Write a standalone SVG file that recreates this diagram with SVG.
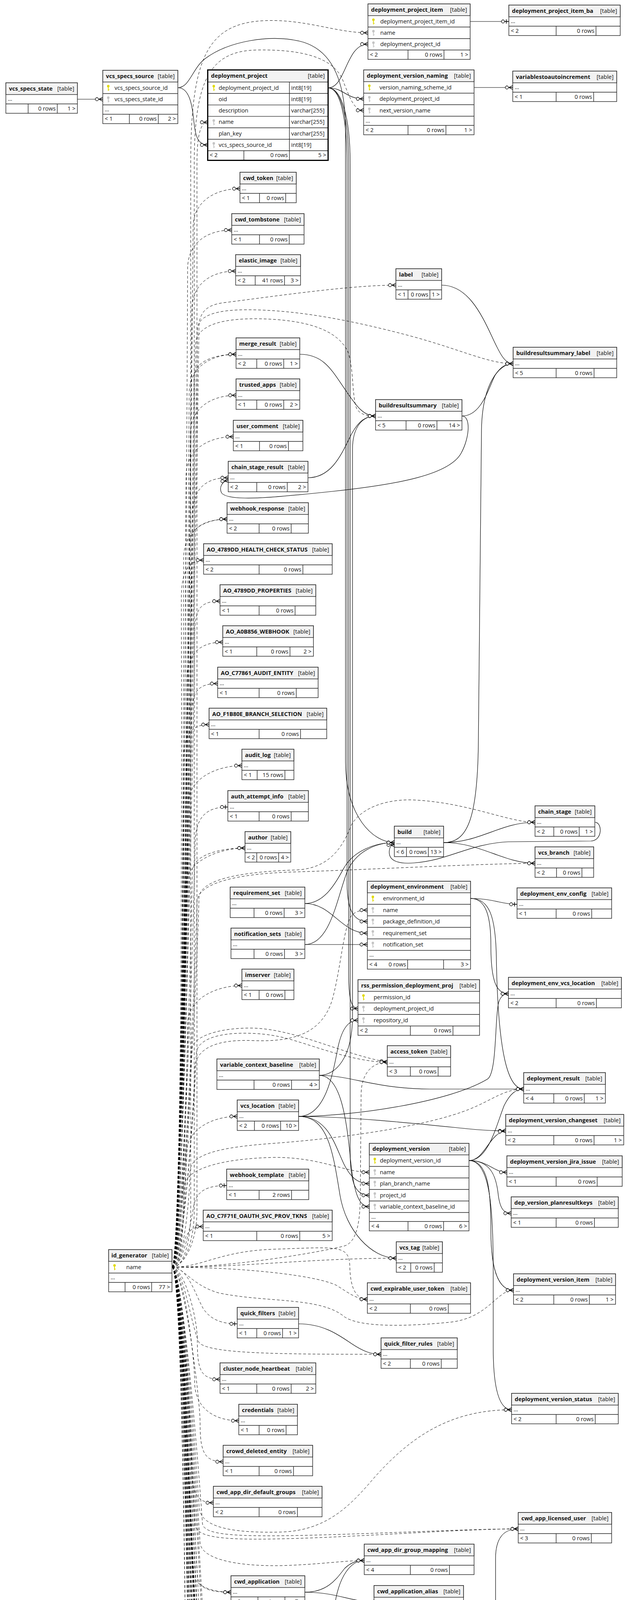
<svg xmlns="http://www.w3.org/2000/svg" width="1612" height="4853" viewBox="0 0 1612 4853">
<defs>
<style>
text{font-family:"Open Sans","Noto Sans","DejaVu Sans",sans-serif;font-size:14.5px;fill:#111}
.b{font-weight:bold}
.e{text-anchor:end}
.bx{fill:#fff;stroke:#222;stroke-width:1.4}
.hd{fill:#f2f2f2;stroke:#222;stroke-width:1.4}
.ln{fill:none;stroke:#222;stroke-width:1.4}
.bold{fill:none;stroke:#000;stroke-width:3}
.fk{fill:none;stroke:#000;stroke-width:1.2}
.im{fill:none;stroke:#000;stroke-width:1;stroke-dasharray:7 5}
.m{marker-end:url(#crow)}
.o{marker-end:url(#tee)}
.pk{fill:#e0d900}
.fg{fill:#c4c4c4}
</style>
<g id="key"><circle cx="4" cy="3.5" r="3.2"/><rect x="3" y="5.5" width="2" height="10"/><rect x="5" y="12" width="2.2" height="1.6"/></g>
<marker id="crow" markerUnits="userSpaceOnUse" markerWidth="24" markerHeight="14" viewBox="0 0 24 14" refX="22" refY="7" orient="auto"><path d="M12,7H22M12,7L22,1.8M12,7L22,12.2" fill="none" stroke="#000" stroke-width="1.4"/><circle cx="7" cy="7" r="4" fill="#fff" stroke="#000" stroke-width="1.3"/></marker>
<marker id="tee" markerUnits="userSpaceOnUse" markerWidth="24" markerHeight="14" viewBox="0 0 24 14" refX="22" refY="7" orient="auto"><path d="M11,7H22M15.5,1.5V12.5" fill="none" stroke="#000" stroke-width="1.6"/><circle cx="7" cy="7" r="4" fill="#fff" stroke="#000" stroke-width="1.3"/></marker>
</defs>
<rect x="0" y="0" width="1612" height="4853" fill="#fff"/>

<g id="connectors">
<path class="fk m" d="M198,254 L263,254"/>
<path class="fk m" d="M455,224.5 C485,224.5 492,270 496,310 C500,352 508,371 531.5,371"/>
<path class="fk m" d="M455,224.5 C485,224.5 492,175 525,150 C585,105 690,88 765,105 C840,122 884,190 884,330 L884,1950 C884,2090 955,2157 1009,2157"/>
<path class="fk m" d="M839.5,225 C885,225 885,113 941.5,113"/>
<path class="fk m" d="M839.5,225 C880,225 885,253 930.5,253"/>
<path class="fk m" d="M839.5,225 C870,225 888,300 888,420 L888,2260 C888,2330 905,2359 940,2359"/>
<path class="fk m" d="M839.5,225 C872,225 892,300 892,420 L892,2490 C892,2555 898,2582 916,2582"/>
<path class="fk m" d="M839.5,225 C874,225 896,300 896,420 L896,2950 C896,3035 912,3060 945,3060"/>
<path class="fk m" d="M817,2753 C858,2753 902,2710 902,2600 L902,1150 C902,1090 930,1065 961,1065"/>
<path class="fk m" d="M767,907 C830,907 850,950 885,1000 C912,1040 930,1065 961,1065"/>
<path class="fk m" d="M788,1223 C850,1223 875,1160 900,1110 C918,1078 935,1065 961,1065"/>
<path class="fk m" d="M1182,1065 C1205,1065 1202,1120 1180,1160 C1150,1215 1020,1240 850,1258 C700,1274 585,1285 567,1262 C560,1248 568,1232 584,1230"/>
<path class="fk m" d="M1130,730 C1195,730 1230,800 1258,860 C1280,908 1292,931 1313,931"/>
<path class="fk m" d="M1182,1065 C1230,1065 1248,1000 1266,962 C1280,940 1293,931 1313,931"/>
<path class="fk m" d="M1135,2157 C1195,2157 1222,2100 1224,1900 L1232,1100 C1234,985 1275,931 1313,931"/>
<path class="fk m" d="M1135,2157 C1230,2157 1280,2105 1369,2105"/>
<path class="fk m" d="M1135,2157 C1230,2157 1290,2210 1369,2210"/>
<path class="fk m" d="M1522,2105 C1542,2105 1542,2152 1512,2153 L1300,2155 C1200,2160 1150,2202 1060,2209 C1012,2213 995,2200 996,2180 C997,2168 1000,2163 1009,2163"/>
<path class="fk m" d="M780,2313 C830,2313 858,2262 880,2222 C905,2178 960,2157 1009,2157"/>
<path class="fk m" d="M780,2313 C850,2313 872,2389 940,2389"/>
<path class="fk m" d="M780,2418 L940,2418"/>
<path class="fk m" d="M780,2418 C845,2418 862,2300 888,2232 C910,2180 962,2157 1009,2157"/>
<path class="fk o" d="M1204,2300 C1262,2300 1282,2315 1323,2315"/>
<path class="fk m" d="M1204,2300 C1245,2300 1256,2350 1256,2420 C1256,2512 1270,2544 1301,2544"/>
<path class="fk m" d="M1204,2300 C1252,2300 1268,2345 1270,2450 C1274,2700 1300,2788 1340,2788"/>
<path class="fk m" d="M817,2753 C900,2753 950,2786 1100,2788 L1340,2788"/>
<path class="fk m" d="M817,2753 C868,2753 885,2850 895,2950 C905,3062 920,3089 945,3089"/>
<path class="fk m" d="M764,2858 C830,2858 850,2760 865,2680 C876,2630 893,2612 916,2612"/>
<path class="fk m" d="M764,2858 C900,2858 1150,2822 1248,2762 C1272,2745 1266,2600 1276,2566 C1281,2550 1290,2544 1301,2544"/>
<path class="fk m" d="M764,2858 C900,2858 1100,2880 1200,2890 C1240,2894 1262,2895 1294,2895"/>
<path class="fk m" d="M764,2858 C840,2858 856,2930 880,2980 C900,3020 920,3030 945,3030"/>
<path class="fk m" d="M764,2858 C840,2858 852,2950 870,3060 C885,3150 950,3221 1014,3221"/>
<path class="fk m" d="M1200,2971 C1240,2971 1252,2900 1294,2895"/>
<path class="fk m" d="M1200,2971 C1250,2971 1270,2880 1290,2830 C1305,2800 1320,2788 1340,2788"/>
<path class="fk m" d="M1200,2971 C1250,2971 1262,3001 1297,3001"/>
<path class="fk m" d="M1200,2971 C1255,2971 1270,3010 1275,3060 C1280,3096 1290,3106 1308,3106"/>
<path class="fk m" d="M1200,2971 C1250,2971 1256,3050 1256,3150 C1256,3262 1280,3303 1314,3303"/>
<path class="fk m" d="M1200,2971 C1255,2971 1262,3100 1262,3250 L1262,3450 C1262,3562 1280,3609 1309,3609"/>
<path class="fk m" d="M764,3389 C830,3389 870,3420 900,3440 C930,3460 950,3467 975,3467"/>
<path class="fk m" d="M780,4076 C860,4076 900,4101 957,4101"/>
<path class="fk m" d="M780,4076 C840,4076 862,4040 882,4015 C900,3998 915,3995 932,3995"/>
<path class="fk m" d="M772,4390 C820,4390 840,4250 855,4120 C866,4030 900,3995 932,3995"/>
<path class="fk m" d="M772,4390 C830,4390 850,4290 870,4250 C888,4215 910,4205 939,4205"/>
<path class="fk m" d="M772,4390 C870,4390 920,4347 1000,4347"/>
<path class="fk m" d="M772,4390 C860,4400 950,4420 1100,4418 C1230,4416 1270,4347 1334,4347"/>
<path class="fk m" d="M772,4390 C860,4390 900,4480 940,4510 C960,4522 980,4525 1006,4525"/>
<path class="fk m" d="M772,4390 C900,4400 1050,4430 1150,4448 C1250,4466 1270,4525 1339,4525"/>
<path class="fk m" d="M772,4390 C840,4390 868,4500 880,4580 C890,4640 930,4666 973,4666"/>
<path class="fk m" d="M1144,4347 L1334,4347"/>
<path class="fk m" d="M1139,4525 L1339,4525"/>
<path class="fk m" d="M1206,4205 C1250,4205 1268,4180 1268,4100 L1268,3990 C1268,3935 1290,3914 1326,3914"/>
<path class="fk o" d="M1203,55 L1302,55"/>
<path class="fk m" d="M1213,224 L1312,224"/>

<path class="im m" d="M440,3244 C470,3244 488,3180 488,3100 L488,420 C488,150 530,60 675,53 C780,48 860,84 941.5,84"/>
<path class="im m" d="M440,3244 C470,3244 497,3180 497,3100 L497,420 C497,200 540,130 658,128 C780,126 850,150 875,200 C895,250 905,282.5 930.5,282.5"/>
<path class="im m" d="M440,3244 C470,3244 504,3180 504,3100 L504,420 C504,350 512,313 531.5,313"/>
<path class="im m" d="M440,3244 C470,3244 494,643 494,583 C494,513 554,483 614,483"/>
<path class="im m" d="M440,3244 C470,3244 480,749 480,689 C480,619 533,589 593,589"/>
<path class="im m" d="M440,3244 C470,3244 491,854 491,794 C491,724 543,694 603,694"/>
<path class="im m" d="M440,3244 C470,3244 509,900 509,840 C509,790 540,778 580,774 C720,756 900,730 1013,730"/>
<path class="im m" d="M440,3244 C470,3244 505,900 505,845 C505,805 560,793 632,793 C760,793 900,820 1050,860 C1180,895 1250,931 1313,931"/>
<path class="im m" d="M440,3244 C470,3244 500,940 500,885 C500,835 560,815 660,816 C780,818 862,842 890,900 C906,940 900,1030 915,1050 C926,1062 940,1065 961,1065"/>
<path class="im m" d="M440,3244 C470,3244 484,1067 484,1007 C484,937 544,907 604,907"/>
<path class="im m" d="M440,3244 C470,3244 496,1027 496,967 C496,925 550,907 604,907"/>
<path class="im m" d="M440,3244 C470,3244 487,1172 487,1112 C487,1042 544,1012 604,1012"/>
<path class="im m" d="M440,3244 C470,3244 476,1278 476,1218 C476,1148 537,1118 597,1118"/>
<path class="im m" d="M440,3244 C470,3244 492,1383 492,1323 C492,1253 524,1223 584,1223"/>
<path class="im m" d="M440,3244 C470,3244 470,1489 470,1429 C470,1359 521,1329 581,1329"/>
<path class="im m" d="M440,3244 C470,3244 486,1449 486,1389 C486,1349 530,1329 581,1329"/>
<path class="im m" d="M440,3244 C470,3244 464,1594 464,1534 C464,1464 480,1434 521,1434"/>
<path class="im m" d="M440,3244 C470,3244 498,1699 498,1639 C498,1569 503,1539 563,1539"/>
<path class="im m" d="M440,3244 C470,3244 478,1804 478,1744 C478,1674 510,1644 570,1644"/>
<path class="im m" d="M440,3244 C470,3244 490,1910 490,1850 C490,1780 497,1750 557,1750"/>
<path class="im m" d="M440,3244 C470,3244 469,2015 469,1955 C469,1885 485,1855 535,1855"/>
<path class="im m" d="M440,3244 C470,3244 481,2120 481,2060 C481,1990 559,1960 619,1960"/>
<path class="im o" d="M440,3244 C470,3244 499,2226 499,2166 C499,2096 523,2066 583,2066"/>
<path class="im m" d="M440,3244 C470,3244 474,2331 474,2271 C474,2201 567,2171 627,2171"/>
<path class="im m" d="M440,3244 C470,3244 492,2281 492,2231 C492,2190 560,2171 627,2171"/>
<path class="im m" d="M440,3244 C470,3244 509,2360 509,2300 C509,2255 600,2232 760,2227 C850,2222 880,2160 900,2110 C930,2062 1000,2045 1060,2048 C1200,2055 1300,2105 1369,2105"/>
<path class="im m" d="M440,3244 C470,3244 504,2370 504,2310 C504,2262 600,2236 760,2232 C950,2226 1200,2212 1369,2210"/>
<path class="im m" d="M440,3244 C470,3244 498,2800 498,2740 C498,2680 560,2660 650,2664 C760,2668 825,2640 850,2560 C872,2480 878,2380 898,2346 C908,2333 922,2330 940,2330"/>
<path class="im m" d="M440,3244 C470,3244 480,2683 480,2623 C480,2553 559,2523 619,2523"/>
<path class="im m" d="M440,3244 C470,3244 502,2760 502,2700 C502,2660 560,2645 624,2645 C700,2645 740,2660 780,2672 C860,2698 930,2719 991,2719"/>
<path class="im m" d="M440,3244 C470,3244 490,2740 490,2690 C490,2650 570,2630 650,2632 C760,2636 880,2700 991,2719"/>
<path class="im m" d="M440,3244 C600,3244 820,3205 880,3190 C916,3180 922,3120 922,3050 L924,2800 C925,2745 955,2719 991,2719"/>
<path class="im m" d="M440,3244 C470,3244 476,3018 476,2958 C476,2888 547,2858 607,2858"/>
<path class="im m" d="M440,3244 C470,3244 486,3060 486,3000 C486,2955 560,2937 700,2927 C900,2912 1100,2880 1200,2840 C1262,2815 1290,2788 1340,2788"/>
<path class="im m" d="M440,3244 C470,3244 470,3090 470,3040 C470,2995 560,2966 700,2963 C820,2962 880,3001 945,3001"/>
<path class="im o" d="M440,3244 C470,3244 490,3120 496,3085 C504,3048 530,3035 580,3035"/>
<path class="im m" d="M440,3244 C462,3244 468,3185 476,3165 C486,3146 500,3140 520,3140"/>
<path class="im m" d="M440,3244 C620,3244 800,3221 1014,3221"/>
<path class="im m" d="M440,3244 C600,3244 800,3262 860,3290 C890,3308 910,3326 940,3326"/>
<path class="im m" d="M440,3244 C520,3244 560,3203 700,3198 C860,3193 893,3185 895,3240 C896,3300 912,3326 940,3326"/>
<path class="im m" d="M440,3244 C470,3244 490,3290 560,3310 C680,3335 820,3320 880,3370 C920,3400 1050,3395 1150,3385 C1250,3375 1270,3303 1314,3303"/>
<path class="im o" d="M440,3244 C480,3244 498,3310 520,3350 C540,3380 570,3389 607,3389"/>
<path class="im m" d="M440,3244 C470,3244 490,3400 510,3438 C540,3465 700,3467 975,3467"/>
<path class="im m" d="M440,3244 C470,3244 505,3371 505,3431 C505,3501 510,3531 563,3531"/>
<path class="im m" d="M440,3244 C470,3244 505,3800 510,3860 C514,3912 600,3925 720,3922 C840,3918 900,3850 960,3780 C1050,3680 1150,3609 1309,3609"/>
<path class="im m" d="M440,3244 C470,3244 498,3477 498,3537 C498,3607 551,3637 611,3637"/>
<path class="im m" d="M440,3244 C470,3244 512,3582 512,3642 C512,3712 520,3742 571,3742"/>
<path class="im m" d="M440,3244 C470,3244 490,3687 490,3747 C490,3817 500,3847 546,3847"/>
<path class="im m" d="M440,3244 C470,3244 515,3850 518,3900 C521,3930 600,3935 800,3930 C1000,3925 1200,3914 1326,3914"/>
<path class="im m" d="M440,3244 C470,3244 496,3860 500,3905 C504,3942 600,3944 800,3937 C1000,3929 1200,3914 1326,3914"/>
<path class="im m" d="M440,3244 C470,3244 508,3900 512,3950 C516,3990 600,4010 720,4008 C820,4005 880,3995 932,3995"/>
<path class="im m" d="M440,3244 C470,3244 486,3980 494,4030 C502,4065 550,4076 591,4076"/>
<path class="im m" d="M440,3244 C470,3244 500,3990 506,4040 C512,4072 550,4076 591,4076"/>
<path class="im m" d="M440,3244 C470,3244 492,4050 498,4100 C504,4140 560,4160 640,4158 C760,4155 880,4101 957,4101"/>
<path class="im m" d="M440,3244 C470,3244 515,4060 518,4110 C522,4160 560,4176 650,4172 C770,4166 880,4101 957,4101"/>
<path class="im m" d="M440,3244 C470,3244 480,4070 486,4120 C494,4175 560,4192 660,4186 C780,4178 880,4101 957,4101"/>
<path class="im m" d="M440,3244 C470,3244 503,4150 510,4200 C516,4240 580,4248 660,4245 C780,4240 860,4205 939,4205"/>
<path class="im m" d="M440,3244 C470,3244 495,4230 505,4262 C525,4295 800,4347 1000,4347"/>
<path class="im m" d="M440,3244 C470,3244 512,4220 518,4255 C535,4290 800,4342 1000,4347"/>
<path class="im m" d="M440,3244 C470,3244 478,4236 488,4270 C508,4302 800,4350 1000,4347"/>
<path class="im m" d="M440,3244 C470,3244 520,4200 522,4240 C526,4265 600,4270 700,4270 C1000,4272 1200,4280 1250,4310 C1285,4335 1300,4347 1334,4347"/>
<path class="im m" d="M440,3244 C470,3244 490,4320 500,4350 C514,4385 560,4390 598,4390"/>
<path class="im m" d="M440,3244 C470,3244 506,4330 512,4362 C522,4388 560,4390 598,4390"/>
<path class="im m" d="M440,3244 C470,3244 490,4320 490,4380 C490,4440 780,4525 1006,4525"/>
<path class="im m" d="M440,3244 C470,3244 505,4335 505,4395 C505,4455 780,4525 1006,4525"/>
<path class="im m" d="M440,3244 C470,3244 476,4350 476,4410 C476,4470 780,4525 1006,4525"/>
<path class="im m" d="M440,3244 C470,3244 515,4365 515,4425 C515,4485 780,4525 1006,4525"/>
<path class="im m" d="M440,3244 C470,3244 484,4380 484,4440 C484,4500 780,4525 1006,4525"/>
<path class="im m" d="M440,3244 C470,3244 498,4395 498,4455 C498,4515 780,4525 1006,4525"/>
<path class="im m" d="M440,3244 C470,3244 510,4415 510,4475 C510,4535 780,4525 1006,4525"/>
<path class="im m" d="M440,3244 C470,3244 500,4500 508,4540 C516,4580 600,4590 700,4588 C950,4585 1150,4585 1250,4560 C1290,4545 1310,4525 1339,4525"/>
<path class="im m" d="M440,3244 C470,3244 488,4480 488,4540 C488,4600 760,4666 973,4666"/>
<path class="im m" d="M440,3244 C470,3244 506,4500 506,4560 C506,4620 760,4666 973,4666"/>
<path class="im m" d="M440,3244 C470,3244 478,4520 478,4580 C478,4640 760,4666 973,4666"/>
<path class="im m" d="M440,3244 C470,3244 516,4540 516,4600 C516,4660 760,4666 973,4666"/>
<path class="im m" d="M440,3244 C470,3244 495,4680 502,4720 C510,4750 540,4763 581,4763"/>
</g>

<g id="t_vcs_specs_state"><rect class="bx" x="15" y="212" width="183" height="78"/><rect class="hd" x="15" y="212" width="183" height="30"/><path class="ln" d="M15,266H198M72,266V290M146.5,266V290"/><text class="b" x="23" y="231.5">vcs_specs_state</text><text class="e" x="190" y="231.5">[table]</text><text x="20" y="258">...</text><text class="e" x="142.5" y="282.5">0 rows</text><text class="e" x="193" y="282.5">1 &gt;</text></g>

<g id="t_vcs_specs_source"><rect class="bx" x="263" y="180" width="192" height="136.5"/><rect class="hd" x="263" y="180" width="192" height="30"/><path class="ln" d="M263,239.5H455M263,268.5H455M263,292.5H455M331,292.5V316.5M405,292.5V316.5"/><text class="b" x="271" y="199.5">vcs_specs_source</text><text class="e" x="447" y="199.5">[table]</text><use href="#key" class="pk" x="273" y="217"/><text x="293" y="229.5">vcs_specs_source_id</text><use href="#key" class="fg" x="273" y="246.5"/><text x="293" y="259">vcs_specs_state_id</text><text x="268" y="284.5">...</text><text x="268" y="309">&lt; 1</text><text class="e" x="401" y="309">0 rows</text><text class="e" x="450" y="309">2 &gt;</text></g>

<g id="t_deployment_project"><rect class="bx" x="531.5" y="179" width="308" height="231.5"/><rect class="hd" x="531.5" y="179" width="308" height="31"/><path class="ln" d="M531.5,239.3H839.5M531.5,268.6H839.5M531.5,297.9H839.5M531.5,327.2H839.5M531.5,356.5H839.5M531.5,385.8H839.5M740.5,210V385.8M624,385.8V410.5M740.5,385.8V410.5"/><rect class="bold" x="531.5" y="179" width="308" height="231.5"/><text class="b" x="540" y="199">deployment_project</text><text class="e" x="831" y="199">[table]</text><use href="#key" class="pk" x="543" y="217"/><text x="559.5" y="229.5">deployment_project_id</text><text x="745" y="229.5">int8[19]</text><text x="559.5" y="258.8">oid</text><text x="745" y="258.8">int8[19]</text><text x="559.5" y="288.1">description</text><text x="745" y="288.1">varchar[255]</text><use href="#key" class="fg" x="543" y="305"/><text x="559.5" y="317.4">name</text><text x="745" y="317.4">varchar[255]</text><text x="559.5" y="346.7">plan_key</text><text x="745" y="346.7">varchar[255]</text><use href="#key" class="fg" x="543" y="363.5"/><text x="559.5" y="376">vcs_specs_source_id</text><text x="745" y="376">int8[19]</text><text x="536.5" y="402.3">&lt; 2</text><text class="e" x="736.5" y="402.3">0 rows</text><text class="e" x="834.5" y="402.3">5 &gt;</text></g>

<g id="t_deployment_project_item"><rect class="bx" x="941.5" y="10" width="261.5" height="142"/><rect class="hd" x="941.5" y="10" width="261.5" height="30"/><path class="ln" d="M941.5,69.3H1203M941.5,98.7H1203M941.5,128H1203M1044,128V152M1136,128V152"/><text class="b" x="949.5" y="29.5">deployment_project_item</text><text class="e" x="1195" y="29.5">[table]</text><use href="#key" class="pk" x="951.5" y="47"/><text x="973" y="59.5">deployment_project_item_id</text><use href="#key" class="fg" x="951.5" y="76.3"/><text x="973" y="89">name</text><use href="#key" class="fg" x="951.5" y="105.7"/><text x="973" y="118.3">deployment_project_id</text><text x="946.5" y="144.5">&lt; 2</text><text class="e" x="1132" y="144.5">0 rows</text><text class="e" x="1198" y="144.5">1 &gt;</text></g>

<g id="t_deployment_project_item_ba"><rect class="bx" x="1302" y="13" width="285" height="78"/><rect class="hd" x="1302" y="13" width="285" height="30"/><path class="ln" d="M1302,67H1587M1423,67V91M1525,67V91"/><text class="b" x="1310" y="32.5">deployment_project_item_ba</text><text class="e" x="1579" y="32.5">[table]</text><text x="1307" y="59">...</text><text x="1307" y="83.5">&lt; 2</text><text class="e" x="1521" y="83.5">0 rows</text></g>

<g id="t_deployment_version_naming"><rect class="bx" x="930.5" y="179" width="282.5" height="166"/><rect class="hd" x="930.5" y="179" width="282.5" height="30"/><path class="ln" d="M930.5,238.5H1213M930.5,268H1213M930.5,297.5H1213M930.5,321H1213M1044,321V345M1141,321V345"/><text class="b" x="938.5" y="198.5">deployment_version_naming</text><text class="e" x="1205" y="198.5">[table]</text><use href="#key" class="pk" x="941" y="216"/><text x="971" y="228.5">version_naming_scheme_id</text><use href="#key" class="fg" x="941" y="245.5"/><text x="971" y="258">deployment_project_id</text><use href="#key" class="fg" x="941" y="275"/><text x="971" y="287.5">next_version_name</text><text x="935.5" y="313.5">...</text><text x="935.5" y="337.5">&lt; 2</text><text class="e" x="1137" y="337.5">0 rows</text><text class="e" x="1208" y="337.5">1 &gt;</text></g>

<g id="t_variablestoautoincrement"><rect class="bx" x="1312" y="182" width="266" height="78"/><rect class="hd" x="1312" y="182" width="266" height="30"/><path class="ln" d="M1312,236H1578M1423,236V260M1519,236V260"/><text class="b" x="1320" y="201.5">variablestoautoincrement</text><text class="e" x="1570" y="201.5">[table]</text><text x="1317" y="228">...</text><text x="1317" y="252.5">&lt; 1</text><text class="e" x="1515" y="252.5">0 rows</text></g>

<g id="t_cwd_token"><rect class="bx" x="614" y="441" width="144" height="78"/><rect class="hd" x="614" y="441" width="144" height="30"/><path class="ln" d="M614,495H758M664,495V519M731,495V519"/><text class="b" x="622" y="460.5">cwd_token</text><text class="e" x="750" y="460.5">[table]</text><text x="619" y="487">...</text><text x="619" y="511.5">&lt; 1</text><text class="e" x="727" y="511.5">0 rows</text></g>

<g id="t_cwd_tombstone"><rect class="bx" x="593" y="547" width="185" height="78"/><rect class="hd" x="593" y="547" width="185" height="30"/><path class="ln" d="M593,601H778M664,601V625M740,601V625"/><text class="b" x="601" y="566.5">cwd_tombstone</text><text class="e" x="770" y="566.5">[table]</text><text x="598" y="593">...</text><text x="598" y="617.5">&lt; 1</text><text class="e" x="736" y="617.5">0 rows</text></g>

<g id="t_elastic_image"><rect class="bx" x="603" y="652" width="166" height="78"/><rect class="hd" x="603" y="652" width="166" height="30"/><path class="ln" d="M603,706H769M653,706V730M728,706V730"/><text class="b" x="611" y="671.5">elastic_image</text><text class="e" x="761" y="671.5">[table]</text><text x="608" y="698">...</text><text x="608" y="722.5">&lt; 2</text><text class="e" x="724" y="722.5">41 rows</text><text class="e" x="764" y="722.5">3 &gt;</text></g>

<g id="t_label"><rect class="bx" x="1013" y="688" width="117" height="78"/><rect class="hd" x="1013" y="688" width="117" height="30"/><path class="ln" d="M1013,742H1130M1044,742V766M1100,742V766"/><text class="b" x="1021" y="707.5">label</text><text class="e" x="1122" y="707.5">[table]</text><text x="1018" y="734">...</text><text x="1018" y="758.5">&lt; 1</text><text class="e" x="1096" y="758.5">0 rows</text><text class="e" x="1125" y="758.5">1 &gt;</text></g>

<g id="t_merge_result"><rect class="bx" x="604" y="865" width="163" height="78"/><rect class="hd" x="604" y="865" width="163" height="30"/><path class="ln" d="M604,919H767M657,919V943M726,919V943"/><text class="b" x="612" y="884.5">merge_result</text><text class="e" x="759" y="884.5">[table]</text><text x="609" y="911">...</text><text x="609" y="935.5">&lt; 2</text><text class="e" x="722" y="935.5">0 rows</text><text class="e" x="762" y="935.5">1 &gt;</text></g>

<g id="t_buildresultsummary_label"><rect class="bx" x="1313" y="889" width="265" height="78"/><rect class="hd" x="1313" y="889" width="265" height="30"/><path class="ln" d="M1313,943H1578M1423,943V967M1520,943V967"/><text class="b" x="1321" y="908.5">buildresultsummary_label</text><text class="e" x="1570" y="908.5">[table]</text><text x="1318" y="935">...</text><text x="1318" y="959.5">&lt; 5</text><text class="e" x="1516" y="959.5">0 rows</text></g>

<g id="t_trusted_apps"><rect class="bx" x="604" y="970" width="163" height="78"/><rect class="hd" x="604" y="970" width="163" height="30"/><path class="ln" d="M604,1024H767M657,1024V1048M726,1024V1048"/><text class="b" x="612" y="989.5">trusted_apps</text><text class="e" x="759" y="989.5">[table]</text><text x="609" y="1016">...</text><text x="609" y="1040.5">&lt; 1</text><text class="e" x="722" y="1040.5">0 rows</text><text class="e" x="762" y="1040.5">2 &gt;</text></g>

<g id="t_buildresultsummary"><rect class="bx" x="961" y="1023" width="221" height="78"/><rect class="hd" x="961" y="1023" width="221" height="30"/><path class="ln" d="M961,1077H1182M1039,1077V1101M1118,1077V1101"/><text class="b" x="969" y="1042.5">buildresultsummary</text><text class="e" x="1174" y="1042.5">[table]</text><text x="966" y="1069">...</text><text x="966" y="1093.5">&lt; 5</text><text class="e" x="1114" y="1093.5">0 rows</text><text class="e" x="1177" y="1093.5">14 &gt;</text></g>

<g id="t_user_comment"><rect class="bx" x="597" y="1076" width="178" height="78"/><rect class="hd" x="597" y="1076" width="178" height="30"/><path class="ln" d="M597,1130H775M664,1130V1154M738,1130V1154"/><text class="b" x="605" y="1095.5">user_comment</text><text class="e" x="767" y="1095.5">[table]</text><text x="602" y="1122">...</text><text x="602" y="1146.5">&lt; 1</text><text class="e" x="734" y="1146.5">0 rows</text></g>

<g id="t_chain_stage_result"><rect class="bx" x="584" y="1181" width="204" height="78"/><rect class="hd" x="584" y="1181" width="204" height="30"/><path class="ln" d="M584,1235H788M657,1235V1259M735,1235V1259"/><text class="b" x="592" y="1200.5">chain_stage_result</text><text class="e" x="780" y="1200.5">[table]</text><text x="589" y="1227">...</text><text x="589" y="1251.5">&lt; 2</text><text class="e" x="731" y="1251.5">0 rows</text><text class="e" x="783" y="1251.5">2 &gt;</text></g>

<g id="t_webhook_response"><rect class="bx" x="581" y="1287" width="208" height="78"/><rect class="hd" x="581" y="1287" width="208" height="30"/><path class="ln" d="M581,1341H789M663,1341V1365M745,1341V1365"/><text class="b" x="589" y="1306.5">webhook_response</text><text class="e" x="781" y="1306.5">[table]</text><text x="586" y="1333">...</text><text x="586" y="1357.5">&lt; 2</text><text class="e" x="741" y="1357.5">0 rows</text></g>

<g id="t_AO_4789DD_HEALTH_CHECK_STATUS"><rect class="bx" x="521" y="1392" width="329" height="78"/><rect class="hd" x="521" y="1392" width="329" height="30"/><path class="ln" d="M521,1446H850M663,1446V1470M775,1446V1470"/><text class="b" x="529" y="1411.5">AO_4789DD_HEALTH_CHECK_STATUS</text><text class="e" x="842" y="1411.5">[table]</text><text x="526" y="1438">...</text><text x="526" y="1462.5">&lt; 2</text><text class="e" x="771" y="1462.5">0 rows</text></g>

<g id="t_AO_4789DD_PROPERTIES"><rect class="bx" x="563" y="1497" width="245" height="78"/><rect class="hd" x="563" y="1497" width="245" height="30"/><path class="ln" d="M563,1551H808M663,1551V1575M755,1551V1575"/><text class="b" x="571" y="1516.5">AO_4789DD_PROPERTIES</text><text class="e" x="800" y="1516.5">[table]</text><text x="568" y="1543">...</text><text x="568" y="1567.5">&lt; 1</text><text class="e" x="751" y="1567.5">0 rows</text></g>

<g id="t_AO_A0B856_WEBHOOK"><rect class="bx" x="570" y="1602" width="232" height="78"/><rect class="hd" x="570" y="1602" width="232" height="30"/><path class="ln" d="M570,1656H802M657,1656V1680M742,1656V1680"/><text class="b" x="578" y="1621.5">AO_A0B856_WEBHOOK</text><text class="e" x="794" y="1621.5">[table]</text><text x="575" y="1648">...</text><text x="575" y="1672.5">&lt; 1</text><text class="e" x="738" y="1672.5">0 rows</text><text class="e" x="797" y="1672.5">2 &gt;</text></g>

<g id="t_AO_C77861_AUDIT_ENTITY"><rect class="bx" x="557" y="1708" width="257" height="78"/><rect class="hd" x="557" y="1708" width="257" height="30"/><path class="ln" d="M557,1762H814M663,1762V1786M758,1762V1786"/><text class="b" x="565" y="1727.5">AO_C77861_AUDIT_ENTITY</text><text class="e" x="806" y="1727.5">[table]</text><text x="562" y="1754">...</text><text x="562" y="1778.5">&lt; 1</text><text class="e" x="754" y="1778.5">0 rows</text></g>

<g id="t_AO_F1B80E_BRANCH_SELECTION"><rect class="bx" x="535" y="1813" width="301" height="78"/><rect class="hd" x="535" y="1813" width="301" height="30"/><path class="ln" d="M535,1867H836M663,1867V1891M769,1867V1891"/><text class="b" x="543" y="1832.5">AO_F1B80E_BRANCH_SELECTION</text><text class="e" x="828" y="1832.5">[table]</text><text x="540" y="1859">...</text><text x="540" y="1883.5">&lt; 1</text><text class="e" x="765" y="1883.5">0 rows</text></g>

<g id="t_audit_log"><rect class="bx" x="619" y="1918" width="133" height="78"/><rect class="hd" x="619" y="1918" width="133" height="30"/><path class="ln" d="M619,1972H752M658,1972V1996M729,1972V1996"/><text class="b" x="627" y="1937.5">audit_log</text><text class="e" x="744" y="1937.5">[table]</text><text x="624" y="1964">...</text><text x="624" y="1988.5">&lt; 1</text><text class="e" x="725" y="1988.5">15 rows</text></g>

<g id="t_auth_attempt_info"><rect class="bx" x="583" y="2024" width="206" height="78"/><rect class="hd" x="583" y="2024" width="206" height="30"/><path class="ln" d="M583,2078H789M663,2078V2102M745,2078V2102"/><text class="b" x="591" y="2043.5">auth_attempt_info</text><text class="e" x="781" y="2043.5">[table]</text><text x="588" y="2070">...</text><text x="588" y="2094.5">&lt; 1</text><text class="e" x="741" y="2094.5">0 rows</text></g>

<g id="t_author"><rect class="bx" x="627" y="2129" width="117" height="78"/><rect class="hd" x="627" y="2129" width="117" height="30"/><path class="ln" d="M627,2183H744M657,2183V2207M713,2183V2207"/><text class="b" x="635" y="2148.5">author</text><text class="e" x="736" y="2148.5">[table]</text><text x="632" y="2175">...</text><text x="632" y="2199.5">&lt; 2</text><text class="e" x="709" y="2199.5">0 rows</text><text class="e" x="739" y="2199.5">4 &gt;</text></g>

<g id="t_build"><rect class="bx" x="1009" y="2115" width="126" height="78"/><rect class="hd" x="1009" y="2115" width="126" height="30"/><path class="ln" d="M1009,2169H1135M1040,2169V2193M1096,2169V2193"/><text class="b" x="1017" y="2134.5">build</text><text class="e" x="1127" y="2134.5">[table]</text><text x="1014" y="2161">...</text><text x="1014" y="2185.5">&lt; 6</text><text class="e" x="1092" y="2185.5">0 rows</text><text class="e" x="1130" y="2185.5">13 &gt;</text></g>

<g id="t_chain_stage"><rect class="bx" x="1369" y="2063" width="153" height="78"/><rect class="hd" x="1369" y="2063" width="153" height="30"/><path class="ln" d="M1369,2117H1522M1417,2117V2141M1482,2117V2141"/><text class="b" x="1377" y="2082.5">chain_stage</text><text class="e" x="1514" y="2082.5">[table]</text><text x="1374" y="2109">...</text><text x="1374" y="2133.5">&lt; 2</text><text class="e" x="1478" y="2133.5">0 rows</text><text class="e" x="1517" y="2133.5">1 &gt;</text></g>

<g id="t_vcs_branch"><rect class="bx" x="1369" y="2168" width="150" height="78"/><rect class="hd" x="1369" y="2168" width="150" height="30"/><path class="ln" d="M1369,2222H1519M1424,2222V2246M1489,2222V2246"/><text class="b" x="1377" y="2187.5">vcs_branch</text><text class="e" x="1511" y="2187.5">[table]</text><text x="1374" y="2214">...</text><text x="1374" y="2238.5">&lt; 2</text><text class="e" x="1485" y="2238.5">0 rows</text></g>

<g id="t_deployment_environment"><rect class="bx" x="940" y="2256" width="264" height="225"/><rect class="hd" x="940" y="2256" width="264" height="29.5"/><path class="ln" d="M940,2315H1204M940,2344.5H1204M940,2374H1204M940,2403.5H1204M940,2433H1204M940,2457H1204M1043,2457V2481M1135,2457V2481"/><text class="b" x="948" y="2275">deployment_environment</text><text class="e" x="1196" y="2275">[table]</text><use href="#key" class="pk" x="950" y="2292.5"/><text x="980" y="2305">environment_id</text><use href="#key" class="fg" x="950" y="2322"/><text x="980" y="2334.5">name</text><use href="#key" class="fg" x="950" y="2351.5"/><text x="980" y="2364">package_definition_id</text><use href="#key" class="fg" x="950" y="2381"/><text x="980" y="2393.5">requirement_set</text><use href="#key" class="fg" x="950" y="2410.5"/><text x="980" y="2423">notification_set</text><text x="945" y="2449">...</text><text x="945" y="2473.5">&lt; 4</text><text class="e" x="1039" y="2473.5">0 rows</text><text class="e" x="1199" y="2473.5">3 &gt;</text></g>

<g id="t_deployment_env_config"><rect class="bx" x="1323" y="2273" width="242" height="78"/><rect class="hd" x="1323" y="2273" width="242" height="30"/><path class="ln" d="M1323,2327H1565M1423,2327V2351M1514,2327V2351"/><text class="b" x="1331" y="2292.5">deployment_env_config</text><text class="e" x="1557" y="2292.5">[table]</text><text x="1328" y="2319">...</text><text x="1328" y="2343.5">&lt; 1</text><text class="e" x="1510" y="2343.5">0 rows</text></g>

<g id="t_requirement_set"><rect class="bx" x="589" y="2271" width="191" height="78"/><rect class="hd" x="589" y="2271" width="191" height="30"/><path class="ln" d="M589,2325H780M650,2325V2349M727,2325V2349"/><text class="b" x="597" y="2290.5">requirement_set</text><text class="e" x="772" y="2290.5">[table]</text><text x="594" y="2317">...</text><text class="e" x="723" y="2341.5">0 rows</text><text class="e" x="775" y="2341.5">3 &gt;</text></g>

<g id="t_notification_sets"><rect class="bx" x="591" y="2376" width="189" height="78"/><rect class="hd" x="591" y="2376" width="189" height="30"/><path class="ln" d="M591,2430H780M650,2430V2454M728,2430V2454"/><text class="b" x="599" y="2395.5">notification_sets</text><text class="e" x="772" y="2395.5">[table]</text><text x="596" y="2422">...</text><text class="e" x="724" y="2446.5">0 rows</text><text class="e" x="775" y="2446.5">3 &gt;</text></g>

<g id="t_imserver"><rect class="bx" x="619" y="2481" width="133" height="78"/><rect class="hd" x="619" y="2481" width="133" height="30"/><path class="ln" d="M619,2535H752M663,2535V2559M729,2535V2559"/><text class="b" x="627" y="2500.5">imserver</text><text class="e" x="744" y="2500.5">[table]</text><text x="624" y="2527">...</text><text x="624" y="2551.5">&lt; 1</text><text class="e" x="725" y="2551.5">0 rows</text></g>

<g id="t_deployment_env_vcs_location"><rect class="bx" x="1301" y="2502" width="289" height="78"/><rect class="hd" x="1301" y="2502" width="289" height="30"/><path class="ln" d="M1301,2556H1590M1423,2556V2580M1526,2556V2580"/><text class="b" x="1309" y="2521.5">deployment_env_vcs_location</text><text class="e" x="1582" y="2521.5">[table]</text><text x="1306" y="2548">...</text><text x="1306" y="2572.5">&lt; 2</text><text class="e" x="1522" y="2572.5">0 rows</text></g>

<g id="t_rss_permission_deployment_proj"><rect class="bx" x="916" y="2508" width="311" height="142.5"/><rect class="hd" x="916" y="2508" width="311" height="30"/><path class="ln" d="M916,2567.5H1227M916,2597H1227M916,2626.5H1227M1050,2626.5V2650.5M1159,2626.5V2650.5"/><text class="b" x="924" y="2527.5">rss_permission_deployment_proj</text><text class="e" x="1219" y="2527.5">[table]</text><use href="#key" class="pk" x="926" y="2545"/><text x="956" y="2557.5">permission_id</text><use href="#key" class="fg" x="926" y="2574.5"/><text x="956" y="2587">deployment_project_id</text><use href="#key" class="fg" x="926" y="2604"/><text x="956" y="2616.5">repository_id</text><text x="921" y="2643">&lt; 2</text><text class="e" x="1155" y="2643">0 rows</text></g>

<g id="t_access_token"><rect class="bx" x="991" y="2677" width="162" height="78"/><rect class="hd" x="991" y="2677" width="162" height="30"/><path class="ln" d="M991,2731H1153M1050,2731V2755M1121,2731V2755"/><text class="b" x="999" y="2696.5">access_token</text><text class="e" x="1145" y="2696.5">[table]</text><text x="996" y="2723">...</text><text x="996" y="2747.5">&lt; 3</text><text class="e" x="1117" y="2747.5">0 rows</text></g>

<g id="t_variable_context_baseline"><rect class="bx" x="555" y="2711" width="262" height="78"/><rect class="hd" x="555" y="2711" width="262" height="30"/><path class="ln" d="M555,2765H817M650,2765V2789M746,2765V2789"/><text class="b" x="563" y="2730.5">variable_context_baseline</text><text class="e" x="809" y="2730.5">[table]</text><text x="560" y="2757">...</text><text class="e" x="742" y="2781.5">0 rows</text><text class="e" x="812" y="2781.5">4 &gt;</text></g>

<g id="t_deployment_result"><rect class="bx" x="1340" y="2746" width="209" height="78"/><rect class="hd" x="1340" y="2746" width="209" height="30"/><path class="ln" d="M1340,2800H1549M1417,2800V2824M1495,2800V2824"/><text class="b" x="1348" y="2765.5">deployment_result</text><text class="e" x="1541" y="2765.5">[table]</text><text x="1345" y="2792">...</text><text x="1345" y="2816.5">&lt; 4</text><text class="e" x="1491" y="2816.5">0 rows</text><text class="e" x="1544" y="2816.5">1 &gt;</text></g>

<g id="t_vcs_location"><rect class="bx" x="607" y="2816" width="157" height="78"/><rect class="hd" x="607" y="2816" width="157" height="30"/><path class="ln" d="M607,2870H764M651,2870V2894M718,2870V2894"/><text class="b" x="615" y="2835.5">vcs_location</text><text class="e" x="756" y="2835.5">[table]</text><text x="612" y="2862">...</text><text x="612" y="2886.5">&lt; 2</text><text class="e" x="714" y="2886.5">0 rows</text><text class="e" x="759" y="2886.5">10 &gt;</text></g>

<g id="t_deployment_version_changeset"><rect class="bx" x="1294" y="2853" width="302" height="78"/><rect class="hd" x="1294" y="2853" width="302" height="30"/><path class="ln" d="M1294,2907H1596M1417,2907V2931M1520,2907V2931"/><text class="b" x="1302" y="2872.5">deployment_version_changeset</text><text class="e" x="1588" y="2872.5">[table]</text><text x="1299" y="2899">...</text><text x="1299" y="2923.5">&lt; 2</text><text class="e" x="1516" y="2923.5">0 rows</text><text class="e" x="1591" y="2923.5">1 &gt;</text></g>

<g id="t_deployment_version"><rect class="bx" x="945" y="2927" width="255" height="224"/><rect class="hd" x="945" y="2927" width="255" height="29.5"/><path class="ln" d="M945,2986H1200M945,3015.5H1200M945,3045H1200M945,3074.5H1200M945,3104H1200M945,3127H1200M1044,3127V3151M1135,3127V3151"/><text class="b" x="953" y="2946">deployment_version</text><text class="e" x="1192" y="2946">[table]</text><use href="#key" class="pk" x="955" y="2963.5"/><text x="972" y="2976">deployment_version_id</text><use href="#key" class="fg" x="955" y="2993"/><text x="972" y="3005.5">name</text><use href="#key" class="fg" x="955" y="3022.5"/><text x="972" y="3035">plan_branch_name</text><use href="#key" class="fg" x="955" y="3052"/><text x="972" y="3064.5">project_id</text><use href="#key" class="fg" x="955" y="3081.5"/><text x="972" y="3094">variable_context_baseline_id</text><text x="950" y="3120">...</text><text x="950" y="3143.5">&lt; 4</text><text class="e" x="1131" y="3143.5">0 rows</text><text class="e" x="1195" y="3143.5">6 &gt;</text></g>

<g id="t_deployment_version_jira_issue"><rect class="bx" x="1297" y="2959" width="295" height="78"/><rect class="hd" x="1297" y="2959" width="295" height="30"/><path class="ln" d="M1297,3013H1592M1423,3013V3037M1528,3013V3037"/><text class="b" x="1305" y="2978.5">deployment_version_jira_issue</text><text class="e" x="1584" y="2978.5">[table]</text><text x="1302" y="3005">...</text><text x="1302" y="3029.5">&lt; 1</text><text class="e" x="1524" y="3029.5">0 rows</text></g>

<g id="t_webhook_template"><rect class="bx" x="580" y="2993" width="210" height="78"/><rect class="hd" x="580" y="2993" width="210" height="30"/><path class="ln" d="M580,3047H790M663,3047V3071M746,3047V3071"/><text class="b" x="588" y="3012.5">webhook_template</text><text class="e" x="782" y="3012.5">[table]</text><text x="585" y="3039">...</text><text x="585" y="3063.5">&lt; 1</text><text class="e" x="742" y="3063.5">2 rows</text></g>

<g id="t_dep_version_planresultkeys"><rect class="bx" x="1308" y="3064" width="274" height="78"/><rect class="hd" x="1308" y="3064" width="274" height="30"/><path class="ln" d="M1308,3118H1582M1423,3118V3142M1521,3118V3142"/><text class="b" x="1316" y="3083.5">dep_version_planresultkeys</text><text class="e" x="1574" y="3083.5">[table]</text><text x="1313" y="3110">...</text><text x="1313" y="3134.5">&lt; 1</text><text class="e" x="1517" y="3134.5">0 rows</text></g>

<g id="t_AO_C7F71E_OAUTH_SVC_PROV_TKNS"><rect class="bx" x="520" y="3098" width="330" height="78"/><rect class="hd" x="520" y="3098" width="330" height="30"/><path class="ln" d="M520,3152H850M657,3152V3176M767,3152V3176"/><text class="b" x="528" y="3117.5">AO_C7F71E_OAUTH_SVC_PROV_TKNS</text><text class="e" x="842" y="3117.5">[table]</text><text x="525" y="3144">...</text><text x="525" y="3168.5">&lt; 1</text><text class="e" x="763" y="3168.5">0 rows</text><text class="e" x="845" y="3168.5">5 &gt;</text></g>

<g id="t_id_generator"><rect class="bx" x="278" y="3199" width="162" height="108"/><rect class="hd" x="278" y="3199" width="162" height="30"/><path class="ln" d="M278,3259H440M278,3283H440M320,3283V3307M388,3283V3307"/><text class="b" x="285" y="3218.5">id_generator</text><text class="e" x="432" y="3218.5">[table]</text><use href="#key" class="pk" x="289" y="3236"/><text x="323" y="3249">name</text><text x="283" y="3275">...</text><text class="e" x="384" y="3299.5">0 rows</text><text class="e" x="435" y="3299.5">77 &gt;</text></g>

<g id="t_vcs_tag"><rect class="bx" x="1014" y="3179" width="118" height="78"/><rect class="hd" x="1014" y="3179" width="118" height="30"/><path class="ln" d="M1014,3233H1132M1051,3233V3257M1111,3233V3257"/><text class="b" x="1022" y="3198.5">vcs_tag</text><text class="e" x="1124" y="3198.5">[table]</text><text x="1019" y="3225">...</text><text x="1019" y="3249.5">&lt; 2</text><text class="e" x="1107" y="3249.5">0 rows</text></g>

<g id="t_cwd_expirable_user_token"><rect class="bx" x="940" y="3284" width="264" height="78"/><rect class="hd" x="940" y="3284" width="264" height="30"/><path class="ln" d="M940,3338H1204M1050,3338V3362M1147,3338V3362"/><text class="b" x="948" y="3303.5">cwd_expirable_user_token</text><text class="e" x="1196" y="3303.5">[table]</text><text x="945" y="3330">...</text><text x="945" y="3354.5">&lt; 2</text><text class="e" x="1143" y="3354.5">0 rows</text></g>

<g id="t_deployment_version_item"><rect class="bx" x="1314" y="3261" width="261" height="78"/><rect class="hd" x="1314" y="3261" width="261" height="30"/><path class="ln" d="M1314,3315H1575M1417,3315V3339M1508,3315V3339"/><text class="b" x="1322" y="3280.5">deployment_version_item</text><text class="e" x="1567" y="3280.5">[table]</text><text x="1319" y="3307">...</text><text x="1319" y="3331.5">&lt; 2</text><text class="e" x="1504" y="3331.5">0 rows</text><text class="e" x="1570" y="3331.5">1 &gt;</text></g>

<g id="t_quick_filters"><rect class="bx" x="607" y="3347" width="157" height="78"/><rect class="hd" x="607" y="3347" width="157" height="30"/><path class="ln" d="M607,3401H764M657,3401V3425M723,3401V3425"/><text class="b" x="615" y="3366.5">quick_filters</text><text class="e" x="756" y="3366.5">[table]</text><text x="612" y="3393">...</text><text x="612" y="3417.5">&lt; 1</text><text class="e" x="719" y="3417.5">0 rows</text><text class="e" x="759" y="3417.5">1 &gt;</text></g>

<g id="t_quick_filter_rules"><rect class="bx" x="975" y="3425" width="195" height="78"/><rect class="hd" x="975" y="3425" width="195" height="30"/><path class="ln" d="M975,3479H1170M1050,3479V3503M1129,3479V3503"/><text class="b" x="983" y="3444.5">quick_filter_rules</text><text class="e" x="1162" y="3444.5">[table]</text><text x="980" y="3471">...</text><text x="980" y="3495.5">&lt; 2</text><text class="e" x="1125" y="3495.5">0 rows</text></g>

<g id="t_cluster_node_heartbeat"><rect class="bx" x="563" y="3489" width="245" height="78"/><rect class="hd" x="563" y="3489" width="245" height="30"/><path class="ln" d="M563,3543H808M657,3543V3567M745,3543V3567"/><text class="b" x="571" y="3508.5">cluster_node_heartbeat</text><text class="e" x="800" y="3508.5">[table]</text><text x="568" y="3535">...</text><text x="568" y="3559.5">&lt; 1</text><text class="e" x="741" y="3559.5">0 rows</text><text class="e" x="803" y="3559.5">2 &gt;</text></g>

<g id="t_deployment_version_status"><rect class="bx" x="1309" y="3567" width="273" height="78"/><rect class="hd" x="1309" y="3567" width="273" height="30"/><path class="ln" d="M1309,3621H1582M1423,3621V3645M1523,3621V3645"/><text class="b" x="1317" y="3586.5">deployment_version_status</text><text class="e" x="1574" y="3586.5">[table]</text><text x="1314" y="3613">...</text><text x="1314" y="3637.5">&lt; 2</text><text class="e" x="1519" y="3637.5">0 rows</text></g>

<g id="t_credentials"><rect class="bx" x="611" y="3595" width="150" height="78"/><rect class="hd" x="611" y="3595" width="150" height="30"/><path class="ln" d="M611,3649H761M663,3649V3673M732,3649V3673"/><text class="b" x="619" y="3614.5">credentials</text><text class="e" x="753" y="3614.5">[table]</text><text x="616" y="3641">...</text><text x="616" y="3665.5">&lt; 1</text><text class="e" x="728" y="3665.5">0 rows</text></g>

<g id="t_crowd_deleted_entity"><rect class="bx" x="571" y="3700" width="229" height="78"/><rect class="hd" x="571" y="3700" width="229" height="30"/><path class="ln" d="M571,3754H800M663,3754V3778M751,3754V3778"/><text class="b" x="579" y="3719.5">crowd_deleted_entity</text><text class="e" x="792" y="3719.5">[table]</text><text x="576" y="3746">...</text><text x="576" y="3770.5">&lt; 1</text><text class="e" x="747" y="3770.5">0 rows</text></g>

<g id="t_cwd_app_dir_default_groups"><rect class="bx" x="546" y="3805" width="278" height="78"/><rect class="hd" x="546" y="3805" width="278" height="30"/><path class="ln" d="M546,3859H824M663,3859V3883M761,3859V3883"/><text class="b" x="554" y="3824.5">cwd_app_dir_default_groups</text><text class="e" x="816" y="3824.5">[table]</text><text x="551" y="3851">...</text><text x="551" y="3875.5">&lt; 2</text><text class="e" x="757" y="3875.5">0 rows</text></g>

<g id="t_cwd_app_licensed_user"><rect class="bx" x="1326" y="3872" width="239" height="78"/><rect class="hd" x="1326" y="3872" width="239" height="30"/><path class="ln" d="M1326,3926H1565M1423,3926V3950M1513,3926V3950"/><text class="b" x="1334" y="3891.5">cwd_app_licensed_user</text><text class="e" x="1557" y="3891.5">[table]</text><text x="1331" y="3918">...</text><text x="1331" y="3942.5">&lt; 3</text><text class="e" x="1509" y="3942.5">0 rows</text></g>

<g id="t_cwd_app_dir_group_mapping"><rect class="bx" x="932" y="3953" width="281" height="78"/><rect class="hd" x="932" y="3953" width="281" height="30"/><path class="ln" d="M932,4007H1213M1050,4007V4031M1150,4007V4031"/><text class="b" x="940" y="3972.5">cwd_app_dir_group_mapping</text><text class="e" x="1205" y="3972.5">[table]</text><text x="937" y="3999">...</text><text x="937" y="4023.5">&lt; 4</text><text class="e" x="1146" y="4023.5">0 rows</text></g>

<g id="t_cwd_application"><rect class="bx" x="591" y="4034" width="189" height="78"/><rect class="hd" x="591" y="4034" width="189" height="30"/><path class="ln" d="M591,4088H780M660,4088V4112M729,4088V4112"/><text class="b" x="599" y="4053.5">cwd_application</text><text class="e" x="772" y="4053.5">[table]</text><text x="596" y="4080">...</text><text x="596" y="4104.5">&lt; 2</text><text class="e" x="725" y="4104.5">1 row</text><text class="e" x="775" y="4104.5">7 &gt;</text></g>

<g id="t_cwd_application_alias"><rect class="bx" x="957" y="4059" width="229" height="78"/><rect class="hd" x="957" y="4059" width="229" height="30"/><path class="ln" d="M957,4113H1186M1050,4113V4137M1137,4113V4137"/><text class="b" x="965" y="4078.5">cwd_application_alias</text><text class="e" x="1178" y="4078.5">[table]</text><text x="962" y="4105">...</text><text x="962" y="4129.5">&lt; 5</text><text class="e" x="1133" y="4129.5">0 rows</text></g>

<g id="t_cwd_app_licensing_dir_info"><rect class="bx" x="939" y="4163" width="267" height="78"/><rect class="hd" x="939" y="4163" width="267" height="30"/><path class="ln" d="M939,4217H1206M1044,4217V4241M1138,4217V4241"/><text class="b" x="947" y="4182.5">cwd_app_licensing_dir_info</text><text class="e" x="1198" y="4182.5">[table]</text><text x="944" y="4209">...</text><text x="944" y="4233.5">&lt; 3</text><text class="e" x="1134" y="4233.5">0 rows</text><text class="e" x="1201" y="4233.5">1 &gt;</text></g>

<g id="t_cwd_group"><rect class="bx" x="1000" y="4305" width="144" height="78"/><rect class="hd" x="1000" y="4305" width="144" height="30"/><path class="ln" d="M1000,4359H1144M1048,4359V4383M1105,4359V4383"/><text class="b" x="1008" y="4324.5">cwd_group</text><text class="e" x="1136" y="4324.5">[table]</text><text x="1005" y="4351">...</text><text x="1005" y="4375.5">&lt; 3</text><text class="e" x="1101" y="4375.5">1 row</text><text class="e" x="1139" y="4375.5">4 &gt;</text></g>

<g id="t_cwd_group_attribute"><rect class="bx" x="1334" y="4305" width="222" height="78"/><rect class="hd" x="1334" y="4305" width="222" height="30"/><path class="ln" d="M1334,4359H1556M1423,4359V4383M1508,4359V4383"/><text class="b" x="1342" y="4324.5">cwd_group_attribute</text><text class="e" x="1548" y="4324.5">[table]</text><text x="1339" y="4351">...</text><text x="1339" y="4375.5">&lt; 3</text><text class="e" x="1504" y="4375.5">0 rows</text></g>

<g id="t_cwd_directory"><rect class="bx" x="598" y="4348" width="174" height="78"/><rect class="hd" x="598" y="4348" width="174" height="30"/><path class="ln" d="M598,4402H772M656,4402V4426M719,4402V4426"/><text class="b" x="606" y="4367.5">cwd_directory</text><text class="e" x="764" y="4367.5">[table]</text><text x="603" y="4394">...</text><text x="603" y="4418.5">&lt; 2</text><text class="e" x="715" y="4418.5">1 row</text><text class="e" x="767" y="4418.5">12 &gt;</text></g>

<g id="t_cwd_user"><rect class="bx" x="1006" y="4483" width="133" height="78"/><rect class="hd" x="1006" y="4483" width="133" height="30"/><path class="ln" d="M1006,4537H1139M1048,4537V4561M1107,4537V4561"/><text class="b" x="1014" y="4502.5">cwd_user</text><text class="e" x="1131" y="4502.5">[table]</text><text x="1011" y="4529">...</text><text x="1011" y="4553.5">&lt; 9</text><text class="e" x="1103" y="4553.5">1 row</text><text class="e" x="1134" y="4553.5">3 &gt;</text></g>

<g id="t_cwd_user_attribute"><rect class="bx" x="1339" y="4483" width="212" height="78"/><rect class="hd" x="1339" y="4483" width="212" height="30"/><path class="ln" d="M1339,4537H1551M1423,4537V4561M1506,4537V4561"/><text class="b" x="1347" y="4502.5">cwd_user_attribute</text><text class="e" x="1543" y="4502.5">[table]</text><text x="1344" y="4529">...</text><text x="1344" y="4553.5">&lt; 3</text><text class="e" x="1502" y="4553.5">4 rows</text></g>

<g id="t_cwd_membership"><rect class="bx" x="973" y="4624" width="199" height="78"/><rect class="hd" x="973" y="4624" width="199" height="30"/><path class="ln" d="M973,4678H1172M1055,4678V4702M1129,4678V4702"/><text class="b" x="981" y="4643.5">cwd_membership</text><text class="e" x="1164" y="4643.5">[table]</text><text x="978" y="4670">...</text><text x="978" y="4694.5">&lt; 5</text><text class="e" x="1125" y="4694.5">1 row</text></g>

<g id="t_cwd_granted_perm"><rect class="bx" x="581" y="4721" width="210" height="78"/><rect class="hd" x="581" y="4721" width="210" height="30"/><path class="ln" d="M581,4775H791M663,4775V4799M746,4775V4799"/><text class="b" x="589" y="4740.5">cwd_granted_perm</text><text class="e" x="783" y="4740.5">[table]</text><text x="586" y="4767">...</text><text x="586" y="4791.5">&lt; 2</text><text class="e" x="742" y="4791.5">0 rows</text></g>

<text x="16" y="4838">Generated by SchemaSpy</text>
</svg>
